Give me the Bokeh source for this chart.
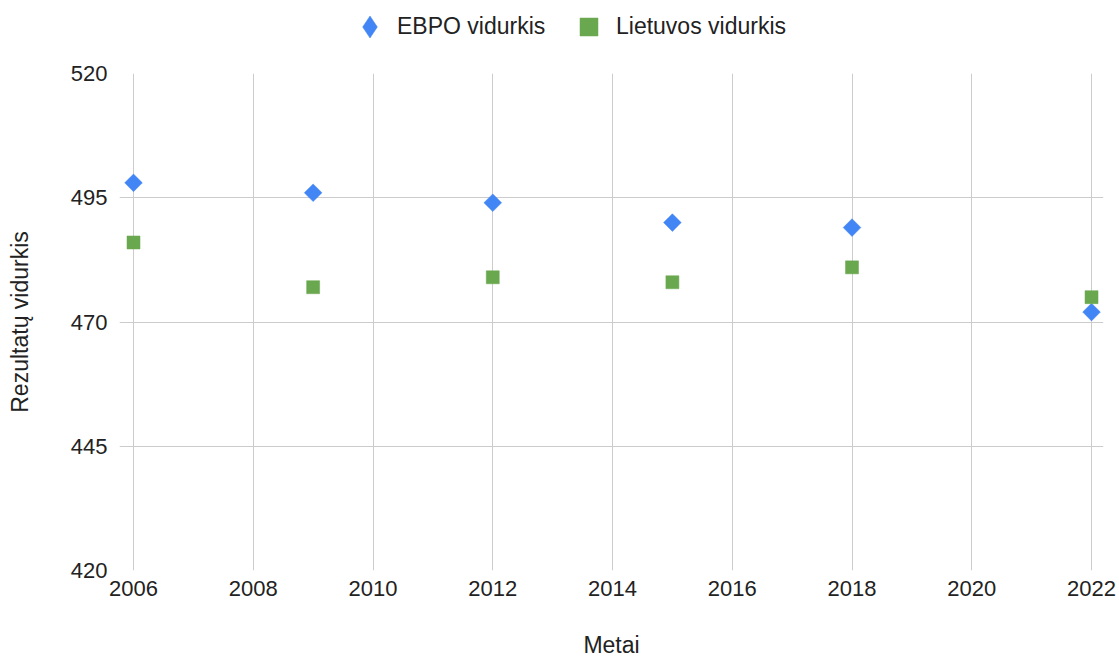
import math
from bokeh.plotting import figure
from bokeh.layouts import column
from bokeh.models import Range1d, FixedTicker, Legend, LegendItem
from bokeh.embed import file_html
from bokeh.resources import INLINE

# ---- data ----
years = [2006, 2009, 2012, 2015, 2018, 2022]
ebpo_vidurkis = [498, 496, 494, 490, 489, 472]
lietuvos_vidurkis = [486, 477, 479, 478, 481, 475]
x_ticks = [2006, 2008, 2010, 2012, 2014, 2016, 2018, 2020, 2022]
y_ticks = [420, 445, 470, 495, 520]
series_names = ["EBPO vidurkis", "Lietuvos vidurkis"]
x_title = "Metai"
y_title = "Rezultatų vidurkis"

FONT = "Liberation Sans"
TXT = "#222222"
GRID = "#cccccc"
BLUE = "#4285f4"
GREEN = "#6aa84f"

# ---- main chart ----
p = figure(width=1119, height=600, output_backend="svg", toolbar_location=None,
           x_range=Range1d(x_ticks[0] - 0.234, x_ticks[-1] + 0.2),
           y_range=Range1d(y_ticks[0], y_ticks[-1]),
           min_border_left=119, min_border_right=16, min_border_top=13, min_border_bottom=89)
p.outline_line_color = None

p.xaxis.ticker = FixedTicker(ticks=x_ticks)
p.yaxis.ticker = FixedTicker(ticks=y_ticks)
for ax in (p.xaxis[0], p.yaxis[0]):
    ax.axis_line_color = None
    ax.minor_tick_line_color = None
    ax.major_tick_line_color = None
    ax.major_tick_in = 0
    ax.major_tick_out = 0
    ax.major_label_text_font = FONT
    ax.major_label_text_font_size = "22px"
    ax.major_label_text_color = TXT
    ax.axis_label_text_font = FONT
    ax.axis_label_text_font_size = "23px"
    ax.axis_label_text_font_style = "normal"
    ax.axis_label_text_color = TXT

p.xaxis.major_label_standoff = 10
p.xaxis.axis_label = x_title
p.xaxis.axis_label_standoff = 33

p.yaxis.major_label_standoff = 12
p.yaxis.axis_label = y_title
p.yaxis.axis_label_standoff = 35

p.xgrid.grid_line_color = GRID
p.ygrid.grid_line_color = GRID

p.scatter(years, ebpo_vidurkis, marker="square", angle=math.pi / 4, size=12.5,
          fill_color=BLUE, line_color=BLUE, line_width=0.5)
p.scatter(years, lietuvos_vidurkis, marker="square", size=13,
          fill_color=GREEN, line_color=GREEN, line_width=0.5)

# ---- legend strip (proxy renderers lie outside this strip's ranges) ----
lg = figure(width=1119, height=60, output_backend="svg", toolbar_location=None,
            x_range=Range1d(0, 1), y_range=Range1d(0, 1),
            min_border_left=119, min_border_right=16, min_border_top=0, min_border_bottom=0,
            x_axis_location=None, y_axis_location=None)
lg.outline_line_color = None
lg.xgrid.visible = False
lg.ygrid.visible = False
k1 = lg.scatter(years, ebpo_vidurkis, marker="diamond",
                fill_color=BLUE, line_color=BLUE, line_width=0.5)
k2 = lg.scatter(years, lietuvos_vidurkis, marker="square",
                fill_color=GREEN, line_color=GREEN, line_width=0.5)

common = dict(orientation="horizontal", padding=0, margin=0,
              background_fill_alpha=0, border_line_color=None,
              label_text_font=FONT, label_text_font_size="23px", label_text_color=TXT)
leg_a = Legend(items=[LegendItem(label=series_names[0], renderers=[k1])],
               location=(223, 6), label_standoff=0, glyph_width=55, glyph_height=55, **common)
leg_b = Legend(items=[LegendItem(label=series_names[1], renderers=[k2])],
               location=(447, 11), label_standoff=5, glyph_width=45, glyph_height=45, **common)
lg.add_layout(leg_a, "center")
lg.add_layout(leg_b, "center")

layout = column(lg, p, spacing=0)
open("out.html", "w").write(file_html(layout, INLINE))
